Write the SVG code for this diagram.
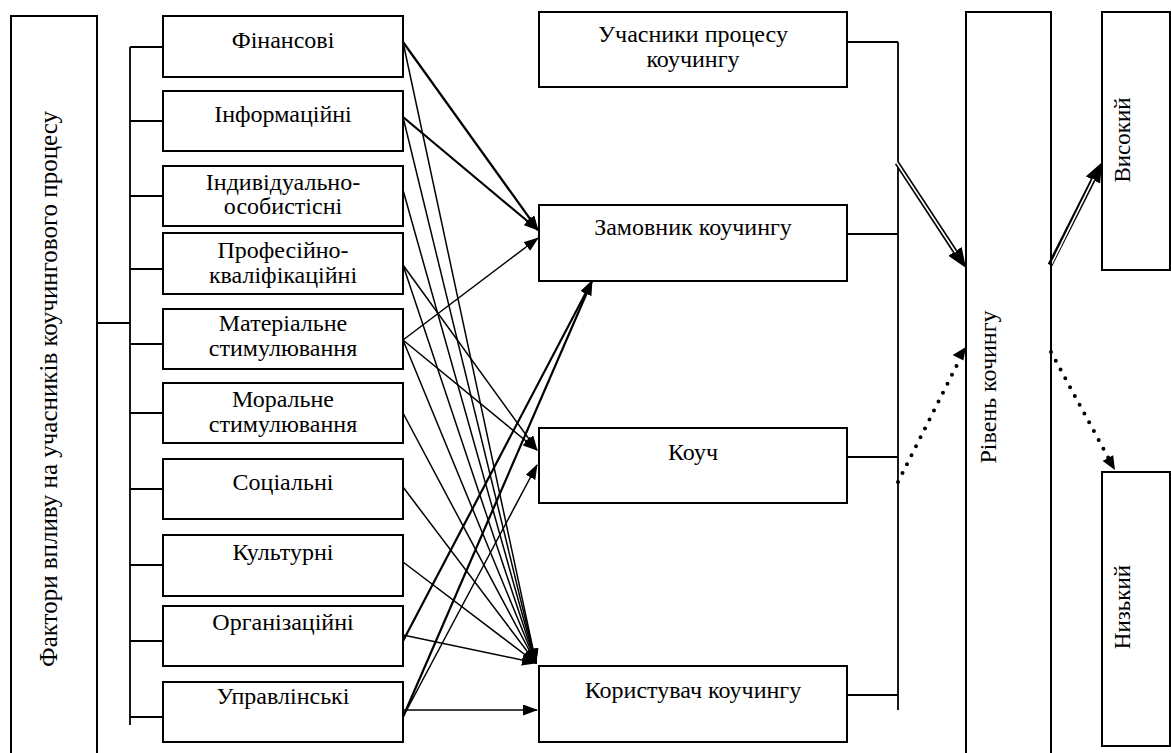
<svg xmlns="http://www.w3.org/2000/svg" width="1171" height="753" viewBox="0 0 1171 753" font-family="Liberation Serif">
<defs>
<marker id="ah" markerUnits="userSpaceOnUse" markerWidth="15" markerHeight="11" viewBox="0 0 15 11" refX="14" refY="5.5" orient="auto"><path d="M0,0 L15,5.5 L0,11 z" fill="#000"/></marker>
<marker id="ahBig" markerUnits="userSpaceOnUse" markerWidth="20" markerHeight="16" viewBox="0 -8 20 16" refX="0" refY="0" orient="auto"><path d="M0,-8 L20,0 L0,8 z" fill="#000"/></marker>
</defs>

<g id="connectors" fill="none" stroke="#000">
<path stroke-width="1.8" d="M97,323 H130 M130,47 V725 M130,47 H163 M130,121 H163 M130,196 H163 M130,269 H163 M130,344 H163 M130,413 H163 M130,489 H163 M130,565 H163 M130,641 H163 M130,717 H163"/>
<path stroke-width="1.8" d="M847,42 H898 M847,234 H898 M847,457 H898 M847,695 H898 M898,42 V710"/>
<g stroke-width="2.2">
<line marker-end="url(#ah)" x1="403" y1="42" x2="538" y2="230"/>
<line marker-end="url(#ah)" x1="403" y1="117" x2="538" y2="230"/>
<line marker-end="url(#ah)" x1="403" y1="641" x2="592" y2="281"/>
<line marker-end="url(#ah)" x1="403" y1="717" x2="592" y2="281"/>
</g>
<g stroke-width="1.5">
<line marker-end="url(#ah)" x1="403" y1="42" x2="536" y2="663"/>
<line marker-end="url(#ah)" x1="403" y1="117" x2="536" y2="663"/>
<line marker-end="url(#ah)" x1="403" y1="190" x2="536" y2="663"/>
<line marker-end="url(#ah)" x1="403" y1="265" x2="537" y2="450"/>
<line marker-end="url(#ah)" x1="403" y1="265" x2="536" y2="663"/>
<line marker-end="url(#ah)" x1="403" y1="340" x2="538" y2="238"/>
<line marker-end="url(#ah)" x1="403" y1="340" x2="537" y2="450"/>
<line marker-end="url(#ah)" x1="403" y1="340" x2="536" y2="663"/>
<line marker-end="url(#ah)" x1="403" y1="413" x2="536" y2="663"/>
<line marker-end="url(#ah)" x1="403" y1="487" x2="536" y2="663"/>
<line marker-end="url(#ah)" x1="403" y1="562" x2="536" y2="663"/>
<line marker-end="url(#ah)" x1="403" y1="635" x2="536" y2="663"/>
<line marker-end="url(#ah)" x1="403" y1="717" x2="537" y2="465"/>
<line marker-end="url(#ah)" x1="403" y1="710" x2="537" y2="710"/>
</g>
<line stroke-width="5" marker-end="url(#ahBig)" x1="897" y1="163" x2="955" y2="251.3"/>
<line stroke="#fff" stroke-width="1.6" x1="896.5" y1="162.2" x2="955.6" y2="252.2"/>
<line stroke-width="5" marker-end="url(#ahBig)" x1="1050" y1="265" x2="1093" y2="180"/>
<line stroke="#fff" stroke-width="1.6" x1="1050.5" y1="266" x2="1093.6" y2="178.8"/>
<g stroke-width="4" stroke-linecap="round" stroke-dasharray="0 10">
<line x1="898" y1="482" x2="959.7" y2="359.5"/>
<line x1="1051" y1="352" x2="1108.3" y2="457.7"/>
</g>
<polygon stroke="none" fill="#000" points="966,347 952.6,355 963.4,360.4"/>
<polygon stroke="none" fill="#000" points="1115,470 1102.6,461 1113.2,455.2"/>
</g>

<g id="factors-title">
<path fill="none" stroke="#000" stroke-width="2" d="M11,753 V16 H97 V753"/>
<text style="font-family:Liberation Serif" font-family="Liberation Serif" font-size="25" text-anchor="middle" transform="translate(57,389) rotate(-90)">Фактори впливу на учасників коучингового процесу</text>
</g>

<g id="f1"><rect fill="#fff" stroke="#000" stroke-width="2" x="163" y="16" width="240" height="61"/><text style="font-family:Liberation Serif" font-family="Liberation Serif" font-size="24" text-anchor="middle" x="283" y="48">Фінансові</text></g>
<g id="f2"><rect fill="#fff" stroke="#000" stroke-width="2" x="163" y="91" width="240" height="60"/><text style="font-family:Liberation Serif" font-family="Liberation Serif" font-size="24" text-anchor="middle" x="283" y="122">Інформаційні</text></g>
<g id="f3"><rect fill="#fff" stroke="#000" stroke-width="2" x="163" y="166" width="240" height="60"/><text style="font-family:Liberation Serif" font-family="Liberation Serif" font-size="24" text-anchor="middle" x="283" y="190">Індивідуально-</text><text style="font-family:Liberation Serif" font-family="Liberation Serif" font-size="24" text-anchor="middle" x="283" y="214">особистісні</text></g>
<g id="f4"><rect fill="#fff" stroke="#000" stroke-width="2" x="163" y="233" width="240" height="61"/><text style="font-family:Liberation Serif" font-family="Liberation Serif" font-size="24" text-anchor="middle" x="283" y="258">Професійно-</text><text style="font-family:Liberation Serif" font-family="Liberation Serif" font-size="24" text-anchor="middle" x="283" y="283">кваліфікаційні</text></g>
<g id="f5"><rect fill="#fff" stroke="#000" stroke-width="2" x="163" y="309" width="240" height="60"/><text style="font-family:Liberation Serif" font-family="Liberation Serif" font-size="24" text-anchor="middle" x="283" y="331">Матеріальне</text><text style="font-family:Liberation Serif" font-family="Liberation Serif" font-size="24" text-anchor="middle" x="283" y="356">стимулювання</text></g>
<g id="f6"><rect fill="#fff" stroke="#000" stroke-width="2" x="163" y="383" width="240" height="60"/><text style="font-family:Liberation Serif" font-family="Liberation Serif" font-size="24" text-anchor="middle" x="283" y="407">Моральне</text><text style="font-family:Liberation Serif" font-family="Liberation Serif" font-size="24" text-anchor="middle" x="283" y="432">стимулювання</text></g>
<g id="f7"><rect fill="#fff" stroke="#000" stroke-width="2" x="163" y="459" width="240" height="60"/><text style="font-family:Liberation Serif" font-family="Liberation Serif" font-size="24" text-anchor="middle" x="283" y="490">Соціальні</text></g>
<g id="f8"><rect fill="#fff" stroke="#000" stroke-width="2" x="163" y="535" width="240" height="61"/><text style="font-family:Liberation Serif" font-family="Liberation Serif" font-size="24" text-anchor="middle" x="283" y="560">Культурні</text></g>
<g id="f9"><rect fill="#fff" stroke="#000" stroke-width="2" x="163" y="606" width="240" height="60"/><text style="font-family:Liberation Serif" font-family="Liberation Serif" font-size="24" text-anchor="middle" x="283" y="630">Організаційні</text></g>
<g id="f10"><rect fill="#fff" stroke="#000" stroke-width="2" x="163" y="682" width="240" height="60"/><text style="font-family:Liberation Serif" font-family="Liberation Serif" font-size="24" text-anchor="middle" x="283" y="704">Управлінські</text></g>

<g id="participants"><rect fill="#fff" stroke="#000" stroke-width="2" x="539" y="12" width="308" height="75"/><text style="font-family:Liberation Serif" font-family="Liberation Serif" font-size="24" text-anchor="middle" x="693" y="42">Учасники процесу</text><text style="font-family:Liberation Serif" font-family="Liberation Serif" font-size="24" text-anchor="middle" x="693" y="67">коучингу</text></g>
<g id="customer"><rect fill="#fff" stroke="#000" stroke-width="2" x="539" y="205" width="308" height="76"/><text style="font-family:Liberation Serif" font-family="Liberation Serif" font-size="24" text-anchor="middle" x="693" y="235">Замовник коучингу</text></g>
<g id="coach"><rect fill="#fff" stroke="#000" stroke-width="2" x="539" y="428" width="308" height="75"/><text style="font-family:Liberation Serif" font-family="Liberation Serif" font-size="24" text-anchor="middle" x="693" y="460">Коуч</text></g>
<g id="user"><rect fill="#fff" stroke="#000" stroke-width="2" x="539" y="666" width="308" height="76"/><text style="font-family:Liberation Serif" font-family="Liberation Serif" font-size="24" text-anchor="middle" x="693" y="698">Користувач коучингу</text></g>

<g id="level"><path fill="none" stroke="#000" stroke-width="2" d="M966,753 V12 H1051 V753"/><text style="font-family:Liberation Serif" font-family="Liberation Serif" font-size="24" text-anchor="middle" transform="translate(996,387) rotate(-90)">Рівень кочингу</text></g>
<g id="high"><rect fill="#fff" stroke="#000" stroke-width="2" x="1102" y="12" width="68" height="258"/><text style="font-family:Liberation Serif" font-family="Liberation Serif" font-size="23" text-anchor="middle" transform="translate(1130,140) rotate(-90)">Високий</text></g>
<g id="low"><rect fill="#fff" stroke="#000" stroke-width="2" x="1102" y="472" width="68" height="274"/><text style="font-family:Liberation Serif" font-family="Liberation Serif" font-size="23" text-anchor="middle" transform="translate(1130,607) rotate(-90)">Низький</text></g>
</svg>
